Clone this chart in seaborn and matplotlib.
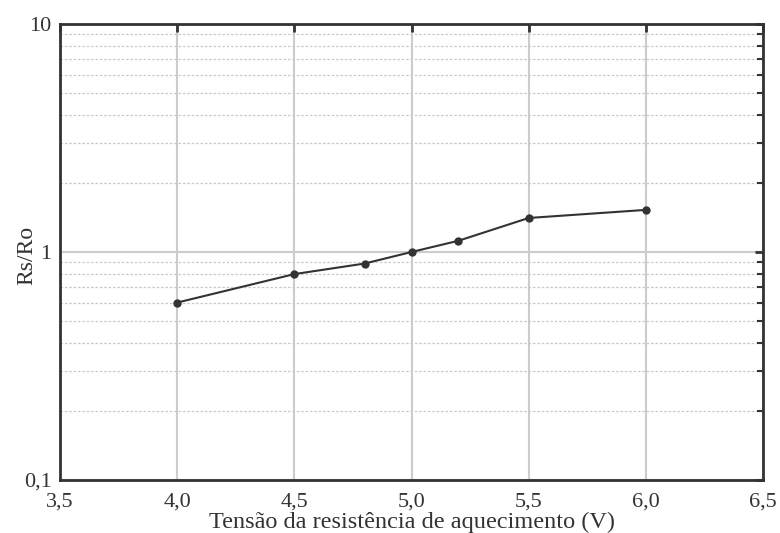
import matplotlib
matplotlib.use("Agg")
import matplotlib.pyplot as plt
import seaborn as sns
import pandas as pd
import numpy as np
from matplotlib.ticker import FixedLocator, FixedFormatter, NullFormatter

tensao = [4.0, 4.5, 4.8, 5.0, 5.2, 5.5, 6.0]
rs_ro = [0.60, 0.80, 0.89, 1.00, 1.12, 1.41, 1.53]
x_ticks = [3.5, 4.0, 4.5, 5.0, 5.5, 6.0, 6.5]
x_labels = ["3,5", "4,0", "4,5", "5,0", "5,5", "6,0", "6,5"]
y_ticks = [0.1, 1, 10]
y_labels = ["0,1", "1", "10"]

df = pd.DataFrame({"x": tensao, "y": rs_ro})

sns.set_style("white")
plt.rcParams["font.family"] = ["Liberation Serif", "DejaVu Serif"]

fig = plt.figure(figsize=(7.8, 5.33), dpi=100)
ax = fig.add_axes([60/780, 1 - 480/533, (763-60)/780, (480-24)/533])

sns.lineplot(data=df, x="x", y="y", ax=ax, color="#333333", linewidth=1.5,
             marker="o", markersize=6, markeredgewidth=0, zorder=5)

ax.set_yscale("log")
ax.set_xlim(3.5, 6.5)
ax.set_ylim(0.1, 10)

ax.xaxis.set_major_locator(FixedLocator(x_ticks))
ax.xaxis.set_major_formatter(FixedFormatter(x_labels))
ax.yaxis.set_major_locator(FixedLocator(y_ticks))
ax.yaxis.set_major_formatter(FixedFormatter(y_labels))
minor = [m * 10.0**e for e in (-1, 0) for m in range(2, 10)]
ax.yaxis.set_minor_locator(FixedLocator(minor))
ax.yaxis.set_minor_formatter(NullFormatter())

ax.grid(True, which="major", axis="both", color="#cccccc", linewidth=1.5, linestyle="-", zorder=0)
ax.grid(True, which="minor", axis="y", color="#c8c8c8", linewidth=0.9, linestyle=(0, (2, 1.5)), zorder=0)
ax.set_axisbelow(True)

for s in ax.spines.values():
    s.set_color("#333333")
    s.set_linewidth(2)

ax.tick_params(which="both", direction="in", top=True, right=True, color="#333333")
ax.tick_params(which="major", length=6, width=2, labelsize=16, labelcolor="#333333")
ax.tick_params(which="minor", length=4, width=1.5)
ax.tick_params(axis="x", pad=9)
ax.tick_params(axis="y", pad=6)

ax.set_xlabel("Tensão da resistência de aquecimento (V)", fontsize=17.5, color="#333333", labelpad=0)
ax.set_ylabel("Rs/Ro", fontsize=17, color="#333333")
ax.yaxis.set_label_coords((37 - 60) / 703, (480 - 255) / 456)

fig.savefig("out.png", dpi=100)
